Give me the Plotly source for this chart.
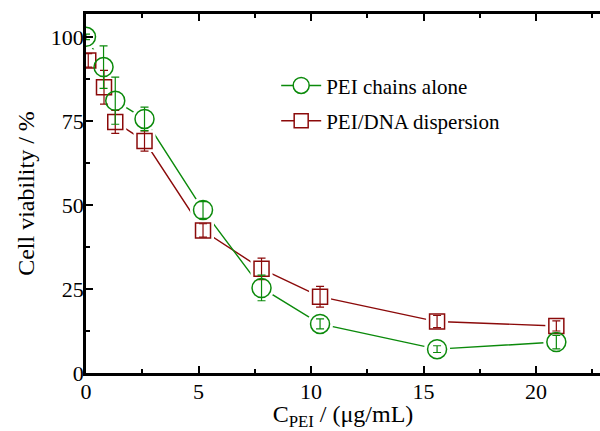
import plotly.graph_objects as go

x_vals = [0.0, 0.78, 1.3, 2.6, 5.2, 7.8, 10.4, 15.6, 20.9]
pei_alone = [100, 91, 81, 75.6, 48.5, 25.3, 14.6, 7.1, 9.2]
pei_alone_err = [0.8, 6.3, 7, 3.5, 2.5, 3.8, 1.5, 1.0, 2.0]
x_dna = [0.1, 0.8, 1.3, 2.6, 5.2, 7.8, 10.4, 15.6, 20.9]
pei_dna = [93, 85, 74.7, 69, 42.4, 31, 22.7, 15.3, 14.0]
pei_dna_err = [2, 5, 3.4, 3, 2, 3.2, 3.1, 1.8, 1.5]

GREEN = "#0b8a0b"
RED = "#8b0a0a"
FONT = "Liberation Serif, Times New Roman, serif"

fig = go.Figure()
# lines
fig.add_trace(go.Scatter(x=x_dna, y=pei_dna, mode="lines", line=dict(color=RED, width=1.4),
                         showlegend=False, hoverinfo="skip"))
fig.add_trace(go.Scatter(x=x_vals, y=pei_alone, mode="lines", line=dict(color=GREEN, width=1.4),
                         showlegend=False, hoverinfo="skip"))
# white halos for line gaps
fig.add_trace(go.Scatter(x=x_dna, y=pei_dna, mode="markers",
                         marker=dict(symbol="square", size=22, color="white", line=dict(width=0)),
                         showlegend=False, hoverinfo="skip"))
fig.add_trace(go.Scatter(x=x_vals, y=pei_alone, mode="markers",
                         marker=dict(symbol="circle", size=26, color="white", line=dict(width=0)),
                         showlegend=False, hoverinfo="skip"))
# markers with error bars
fig.add_trace(go.Scatter(x=x_dna, y=pei_dna, mode="markers",
                         marker=dict(symbol="square", size=15, color="rgba(0,0,0,0)",
                                     line=dict(color=RED, width=1.5)),
                         error_y=dict(type="data", array=pei_dna_err, color=RED, thickness=1.2, width=4),
                         showlegend=False))
fig.add_trace(go.Scatter(x=x_vals, y=pei_alone, mode="markers",
                         marker=dict(symbol="circle", size=19, color="rgba(0,0,0,0)",
                                     line=dict(color=GREEN, width=1.5)),
                         error_y=dict(type="data", array=pei_alone_err, color=GREEN, thickness=1.2, width=4),
                         showlegend=False))
# legend entries
fig.add_trace(go.Scatter(x=[None], y=[None], mode="lines+markers", name="PEI chains alone",
                         legendgroup="a",
                         line=dict(color=GREEN, width=1.4),
                         marker=dict(symbol="circle", size=16, color="white", line=dict(color=GREEN, width=1.5))))
fig.add_trace(go.Scatter(x=[None], y=[None], mode="lines+markers", name="PEI/DNA dispersion",
                         legendgroup="b",
                         line=dict(color=RED, width=1.4),
                         marker=dict(symbol="square", size=14, color="white", line=dict(color=RED, width=1.5))))

fig.update_layout(
    width=600, height=431,
    margin=dict(l=86, r=0, t=14, b=58),
    paper_bgcolor="white", plot_bgcolor="white",
    font=dict(family=FONT, size=20, color="black"),
    legend=dict(x=0.37, y=0.857, xanchor="left", yanchor="top", bgcolor="rgba(0,0,0,0)",
                font=dict(family=FONT, size=21), traceorder="grouped", tracegroupgap=5,
                itemwidth=40),
)
fig.update_xaxes(
    range=[0, 22.84], tickvals=[0, 5, 10, 15, 20], ticktext=["0", "5", "10", "15", "20"],
    ticks="inside", ticklen=7, tickwidth=2, tickcolor="black",
    minor=dict(dtick=2.5, tick0=0, ticks="inside", ticklen=4, tickwidth=2, tickcolor="black"),
    showline=True, linewidth=2.5, linecolor="black", mirror="ticks",
    showgrid=False, zeroline=False,
    tickfont=dict(family=FONT, size=22), ticklabelstandoff=-3,
    title=dict(text="C<sub>PEI</sub> / (μg/mL)", font=dict(family=FONT, size=24), standoff=9),
)
fig.update_yaxes(
    range=[0, 106.8], tickvals=[0, 25, 50, 75, 100],
    ticks="inside", ticklen=7, tickwidth=2, tickcolor="black",
    minor=dict(dtick=12.5, tick0=0, ticks="inside", ticklen=4, tickwidth=2, tickcolor="black"),
    showline=True, linewidth=2.5, linecolor="black", mirror=False,
    showgrid=False, zeroline=False,
    tickfont=dict(family=FONT, size=22), ticklabelstandoff=-5,
    title=dict(text="Cell viability / %", font=dict(family=FONT, size=24), standoff=10),
)

fig.write_html("out.html")
